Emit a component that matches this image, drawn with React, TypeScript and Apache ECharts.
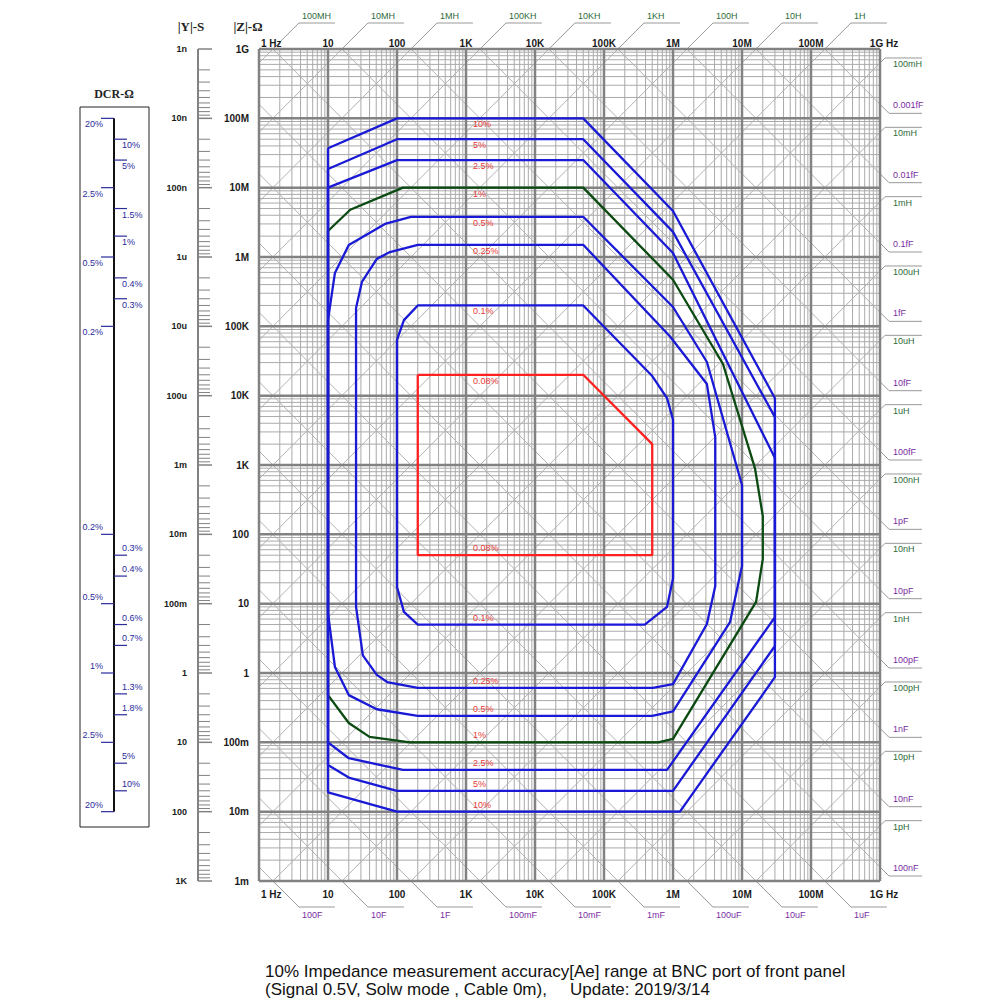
import React, { useEffect, useRef } from "react";
import * as echarts from "echarts";

// ---------------- axis ticks ----------------
const freqTicks = [1, 1e1, 1e2, 1e3, 1e4, 1e5, 1e6, 1e7, 1e8, 1e9];
const freqTickLabels = ["1 Hz", "10", "100", "1K", "10K", "100K", "1M", "10M", "100M", "1G Hz"];
const zTicks = [1e9, 1e8, 1e7, 1e6, 1e5, 1e4, 1e3, 1e2, 1e1, 1, 1e-1, 1e-2, 1e-3];
const zTickLabels = ["1G", "100M", "10M", "1M", "100K", "10K", "1K", "100", "10", "1", "100m", "10m", "1m"];
const yTicks = [1e-9, 1e-8, 1e-7, 1e-6, 1e-5, 1e-4, 1e-3, 1e-2, 1e-1, 1, 1e1, 1e2, 1e3];
const yTickLabels = ["1n", "10n", "100n", "1u", "10u", "100u", "1m", "10m", "100m", "1", "10", "100", "1K"];
const minorSteps = [2, 3, 4, 5, 6, 7, 8, 9];

// ---------------- reactance lines ----------------
const inductances = [1e8, 1e7, 1e6, 1e5, 1e4, 1e3, 1e2, 1e1, 1, 1e-1, 1e-2, 1e-3, 1e-4, 1e-5, 1e-6, 1e-7, 1e-8, 1e-9, 1e-10, 1e-11, 1e-12];
const inductanceLabels = ["100MH", "10MH", "1MH", "100KH", "10KH", "1KH", "100H", "10H", "1H", "100mH", "10mH", "1mH", "100uH", "10uH", "1uH", "100nH", "10nH", "1nH", "100pH", "10pH", "1pH"];
const capacitances = [1e2, 1e1, 1, 1e-1, 1e-2, 1e-3, 1e-4, 1e-5, 1e-6, 1e-7, 1e-8, 1e-9, 1e-10, 1e-11, 1e-12, 1e-13, 1e-14, 1e-15, 1e-16, 1e-17, 1e-18];
const capacitanceLabels = ["100F", "10F", "1F", "100mF", "10mF", "1mF", "100uF", "10uF", "1uF", "100nF", "10nF", "1nF", "100pF", "10pF", "1pF", "100fF", "10fF", "1fF", "0.1fF", "0.01fF", "0.001fF"];

// ---------------- DCR ruler ----------------
const dcrLeftZ = [1e8, 1e7, 1e6, 1e5, 1e2, 1e1, 1, 1e-1, 1e-2];
const dcrLeftLabels = ["20%", "2.5%", "0.5%", "0.2%", "0.2%", "0.5%", "1%", "2.5%", "20%"];
const dcrRightZ = [5e7, 2.5e7, 5e6, 2e6, 5e5, 2.5e5, 50, 25, 5, 2.5, 0.5, 0.25, 0.05, 0.02];
const dcrRightLabels = ["10%", "5%", "1.5%", "1%", "0.4%", "0.3%", "0.3%", "0.4%", "0.6%", "0.7%", "1.3%", "1.8%", "5%", "10%"];

// ---------------- accuracy contours [frequency Hz, |Z| ohm] ----------------
const accuracy10 = [[10, 3.7e7], [100, 1e8], [5e4, 1e8], [1e6, 4.6e6], [3e7, 9.2e3], [3e7, 0.87], [1.26e6, 0.01], [100, 0.01], [10, 0.019], [10, 3.7e7]];
const accuracy5 = [[10, 1.86e7], [100, 5e7], [5e4, 5e7], [1e6, 2.3e6], [3e7, 4.9e3], [3e7, 2.45], [1e6, 0.02], [100, 0.02], [20, 0.031], [10, 0.047], [10, 1.86e7]];
const accuracy2_5 = [[10, 1e7], [100, 2.5e7], [5e4, 2.5e7], [1e6, 1.14e6], [3e7, 1.26e3], [3e7, 6.4], [8.2e5, 0.04], [122, 0.04], [20, 0.059], [10, 0.1], [10, 1e7]];
const accuracy1 = [[10, 2.37e6], [21, 4.8e6], [122, 1e7], [5e4, 1e7], [1e6, 4.7e5], [5.3e6, 2.86e4], [1.54e7, 904], [2e7, 184], [2e7, 44], [1.6e7, 10.6], [1e6, 0.112], [6.1e5, 0.1], [154, 0.1], [40, 0.12], [20, 0.19], [10, 0.48], [10, 2.37e6]];
const accuracy0_5 = [[10, 1.23e5], [12.6, 5.9e5], [20, 1.49e6], [67, 3e6], [159, 3.8e6], [5e4, 3.8e6], [1e6, 1.9e5], [3.1e6, 3.06e4], [1e7, 514], [1e7, 35], [6.7e6, 5.4], [1e6, 0.28], [5e5, 0.24], [200, 0.24], [51, 0.3], [20, 0.48], [12.6, 1.22], [10, 7.3], [10, 1.23e5]];
const accuracy0_25 = [[25.5, 1.84e5], [31, 4.36e5], [51, 9.4e5], [79, 1.18e6], [200, 1.5e6], [5e4, 1.5e6], [9e5, 7.2e4], [3.1e6, 1.47e4], [4.1e6, 2.5e3], [4.1e6, 18], [3.1e6, 5.1], [1e6, 0.69], [5.1e5, 0.61], [200, 0.61], [72, 0.74], [51, 0.94], [32, 1.8], [25.5, 9], [25.5, 1.84e5]];
const accuracy0_1 = [[100, 6.4e4], [126, 1.23e5], [200, 2e5], [5e4, 2e5], [5e5, 1.92e4], [8.2e5, 9.2e3], [1e6, 4.5e3], [1e6, 23], [8.2e5, 9], [3.9e5, 5], [200, 5], [126, 7.6], [100, 17.4], [100, 6.4e4]];
const accuracy0_08 = [[200, 2e4], [5e4, 2e4], [5e5, 2e3], [5e5, 50], [200, 50], [200, 2e4]];

const accuracyNames = ["1%", "10%", "5%", "2.5%", "0.5%", "0.25%", "0.1%", "0.08%"];
const accuracySets = [accuracy1, accuracy10, accuracy5, accuracy2_5, accuracy0_5, accuracy0_25, accuracy0_1, accuracy0_08];

// ---------------- styles ----------------
const BLUE = "#1a1ad6";
const GREEN = "#0b4a10";
const RED = "#ff2020";
const accuracyColors = [GREEN, BLUE, BLUE, BLUE, BLUE, BLUE, BLUE, RED];
const MINOR = "#aaaaaa";
const MAJOR = "#828282";
const DIAG = "#b2b2b2";
const LEADER = "#999999";
const L_COLOR = "#2f6b3b";
const C_COLOR = "#7a2ea2";
const AXIS_TXT = "#1a1a1a";
const DCR_COLOR = "#2b2b9c";
const SANS = '"Liberation Sans", Arial, sans-serif';
const SERIF = '"Liberation Serif", "DejaVu Serif", serif';

const ln = (x1: number, y1: number, x2: number, y2: number, stroke: string, lineWidth: number) => ({
  type: "line",
  silent: true,
  shape: { x1, y1, x2, y2 },
  style: { stroke, lineWidth },
});
const pl = (points: number[][], stroke: string, lineWidth: number) => ({
  type: "polyline",
  silent: true,
  shape: { points },
  style: { stroke, lineWidth, fill: null },
});
const tx = (x: number, y: number, text: string, fill: string, font: string, align = "left", vAlign = "middle") => ({
  type: "text",
  silent: true,
  x,
  y,
  style: { text, fill, font, align, verticalAlign: vAlign, textAlign: align, textVerticalAlign: vAlign },
});

const frame = (api: any) => {
  const [left, top] = api.coord([freqTicks[0], zTicks[0]]);
  const [right, bottom] = api.coord([freqTicks[freqTicks.length - 1], zTicks[zTicks.length - 1]]);
  return { left, top, right, bottom };
};

const renderMinorGrid = (_p: any, api: any) => {
  const { left, top, right, bottom } = frame(api);
  const ch: any[] = [];
  for (let i = 0; i < freqTicks.length - 1; i++) {
    minorSteps.forEach((k) => {
      const x = api.coord([freqTicks[i] * k, 1])[0];
      ch.push(ln(x, top, x, bottom, MINOR, 1));
    });
  }
  for (let i = 1; i < zTicks.length; i++) {
    minorSteps.forEach((k) => {
      const y = api.coord([1, zTicks[i] * k])[1];
      ch.push(ln(left, y, right, y, MINOR, 1));
    });
  }
  return { type: "group", children: ch };
};

const renderMajorGrid = (_p: any, api: any) => {
  const { left, top, right, bottom } = frame(api);
  const ch: any[] = [];
  freqTicks.forEach((f) => {
    const x = api.coord([f, 1])[0];
    ch.push(ln(x, top, x, bottom, MAJOR, 2.5));
  });
  zTicks.forEach((z) => {
    const y = api.coord([1, z])[1];
    ch.push(ln(left, y, right, y, MAJOR, 2.5));
  });
  return { type: "group", children: ch };
};

const renderReactance = (_p: any, api: any) => {
  const ch: any[] = [];
  const lf0 = Math.log10(freqTicks[0]);
  const lf1 = Math.log10(freqTicks[freqTicks.length - 1]);
  const lz0 = Math.log10(zTicks[zTicks.length - 1]);
  const lz1 = Math.log10(zTicks[0]);
  const font = `9px ${SANS}`;
  inductances.forEach((L, i) => {
    const c = Math.log10(2 * Math.PI * L);
    const s = Math.max(lf0, lz0 - c);
    const e = Math.min(lf1, lz1 - c);
    if (s >= e) return;
    const p1 = api.coord([10 ** s, 10 ** (s + c)]);
    const p2 = api.coord([10 ** e, 10 ** (e + c)]);
    ch.push(ln(p1[0], p1[1], p2[0], p2[1], DIAG, 1));
    const [x, y] = p2;
    if (e < lf1 - 1e-9) {
      ch.push(pl([[x, y], [x + 26, y - 26], [x + 62, y - 26]], LEADER, 1));
      ch.push(tx(x + 29, y - 33, inductanceLabels[i], L_COLOR, font));
    } else {
      ch.push(pl([[x, y], [x + 5, y - 5], [x + 42, y - 5]], LEADER, 1));
      ch.push(tx(x + 13, y + 1, inductanceLabels[i], L_COLOR, font));
    }
  });
  capacitances.forEach((C, i) => {
    const c = -Math.log10(2 * Math.PI * C);
    const s = Math.max(lf0, c - lz1);
    const e = Math.min(lf1, c - lz0);
    if (s >= e) return;
    const p1 = api.coord([10 ** s, 10 ** (c - s)]);
    const p2 = api.coord([10 ** e, 10 ** (c - e)]);
    ch.push(ln(p1[0], p1[1], p2[0], p2[1], DIAG, 1));
    const [x, y] = p2;
    if (e < lf1 - 1e-9) {
      ch.push(pl([[x, y], [x + 26, y + 26], [x + 62, y + 26]], LEADER, 1));
      ch.push(tx(x + 29, y + 34, capacitanceLabels[i], C_COLOR, font));
    } else {
      ch.push(pl([[x, y], [x + 9, y + 9], [x + 42, y + 9]], LEADER, 1));
      ch.push(tx(x + 13, y + 1, capacitanceLabels[i], C_COLOR, font));
    }
  });
  return { type: "group", children: ch };
};

const renderScales = (_p: any, api: any) => {
  const { left, top, bottom } = frame(api);
  const ch: any[] = [];
  const f10 = `bold 10px ${SANS}`;
  const f9 = `bold 9px ${SANS}`;
  freqTicks.forEach((f, i) => {
    const x = api.coord([f, 1])[0];
    const first = i === 0;
    const last = i === freqTicks.length - 1;
    const xx = first ? x + 2 : last ? x + 4 : x;
    const al = first ? "left" : "center";
    ch.push(tx(xx, top - 6, freqTickLabels[i], AXIS_TXT, f10, al));
    ch.push(tx(xx, bottom + 13, freqTickLabels[i], AXIS_TXT, f10, al));
  });
  zTicks.forEach((z, i) => {
    const y = api.coord([1, z])[1];
    ch.push(tx(left - 10, y, zTickLabels[i], AXIS_TXT, f10, "right"));
  });
  const rx = left - 61;
  ch.push(ln(rx, top, rx, bottom, MAJOR, 2));
  yTicks.forEach((yv, i) => {
    const y = api.coord([1, 1 / yv])[1];
    ch.push(ln(rx, y, rx + 14, y, MAJOR, 1.5));
    ch.push(tx(rx - 11, y, yTickLabels[i], AXIS_TXT, f9, "right"));
    if (i < yTicks.length - 1) {
      minorSteps.forEach((k) => {
        const ym = api.coord([1, 1 / (yv * k)])[1];
        ch.push(ln(rx, ym, rx + 12, ym, MAJOR, 1));
      });
    }
  });
  return { type: "group", children: ch };
};

const renderDcr = (_p: any, api: any) => {
  const ch: any[] = [];
  const xl = 114;
  const font = `9px ${SANS}`;
  const yTop = api.coord([1, dcrLeftZ[0]])[1];
  const yBot = api.coord([1, dcrLeftZ[dcrLeftZ.length - 1]])[1];
  ch.push(ln(xl, yTop, xl, yBot, "#111111", 2));
  dcrLeftZ.forEach((z, i) => {
    const y = api.coord([1, z])[1];
    ch.push(ln(xl - 13, y, xl, y, DCR_COLOR, 1.2));
    ch.push(tx(xl - 11, z >= 1e3 ? y + 6 : y - 7, dcrLeftLabels[i], DCR_COLOR, font, "right"));
  });
  dcrRightZ.forEach((z, i) => {
    const y = api.coord([1, z])[1];
    ch.push(ln(xl, y, xl + 13, y, DCR_COLOR, 1.2));
    ch.push(tx(xl + 8, z >= 1e3 ? y + 6 : y - 7, dcrRightLabels[i], DCR_COLOR, font, "left"));
  });
  return { type: "group", children: ch };
};

const renderAccuracyLabels = (_p: any, api: any) => {
  const ch: any[] = [];
  const x = api.coord([1e3, 1])[0] + 7;
  const font = `9px ${SANS}`;
  accuracySets.forEach((pts, i) => {
    const zs = pts.map((p) => p[1]);
    const yTop = api.coord([1e3, Math.max(...zs)])[1];
    const yBot = api.coord([1e3, Math.min(...zs)])[1];
    ch.push(tx(x, yTop + 6, accuracyNames[i], "#e83a3a", font));
    ch.push(tx(x, yBot - 7, accuracyNames[i], "#e83a3a", font));
  });
  return { type: "group", children: ch };
};

const custom = (name: string, renderItem: any, z: number) => ({
  type: "custom",
  name,
  renderItem,
  data: [[1, 1]],
  z,
  silent: true,
  clip: false,
});

const capStyle = (text: string) => ({
  text,
  font: `17px ${SANS}`,
  fill: "#111",
  align: "left",
  verticalAlign: "middle",
  textAlign: "left",
  textVerticalAlign: "middle",
});
const headStyle = (text: string, size: number) => ({
  text,
  font: `bold ${size}px ${SERIF}`,
  fill: "#222",
  align: "center",
  verticalAlign: "middle",
  textAlign: "center",
  textVerticalAlign: "middle",
});

const option: any = {
  animation: false,
  backgroundColor: "#ffffff",
  grid: { left: 259, top: 49, width: 621, height: 832, containLabel: false },
  xAxis: { type: "log", logBase: 10, min: 1, max: 1e9, show: false },
  yAxis: { type: "log", logBase: 10, min: 1e-3, max: 1e9, show: false },
  series: [
    custom("minor grid", renderMinorGrid, 1),
    custom("reactance", renderReactance, 2),
    custom("major grid", renderMajorGrid, 3),
    custom("scales", renderScales, 4),
    custom("DCR", renderDcr, 4),
    ...accuracySets.map((pts, i) => ({
      type: "line",
      name: accuracyNames[i],
      data: pts,
      symbol: "none",
      clip: false,
      silent: true,
      z: 5,
      lineStyle: { color: accuracyColors[i], width: 2.3 },
    })),
    custom("accuracy labels", renderAccuracyLabels, 6),
  ],
  graphic: [
    { type: "text", x: 191, y: 26, style: headStyle("|Y|-S", 13) },
    { type: "text", x: 248, y: 26, style: headStyle("|Z|-Ω", 13) },
    { type: "text", x: 114, y: 94, style: headStyle("DCR-Ω", 12) },
    { type: "rect", shape: { x: 80, y: 107, width: 69, height: 720 }, style: { fill: "none", stroke: "#222", lineWidth: 1 } },
    { type: "text", x: 265, y: 971, style: capStyle("10% Impedance measurement accuracy[Ae] range at BNC port of front panel") },
    { type: "text", x: 265, y: 989, style: capStyle("(Signal 0.5V, Solw mode , Cable 0m),") },
    { type: "text", x: 570, y: 989, style: capStyle("Update: 2019/3/14") },
  ],
};

export default function App() {
  const ref = useRef<HTMLDivElement>(null);
  useEffect(() => {
    if (!ref.current) return;
    const chart = echarts.init(ref.current, null, { renderer: "svg" });
    chart.setOption(option);
    return () => chart.dispose();
  }, []);
  return (
    <div
      ref={ref}
      style={{ position: "absolute", left: 0, top: 0, width: 1000, height: 1000, background: "#fff" }}
    />
  );
}
